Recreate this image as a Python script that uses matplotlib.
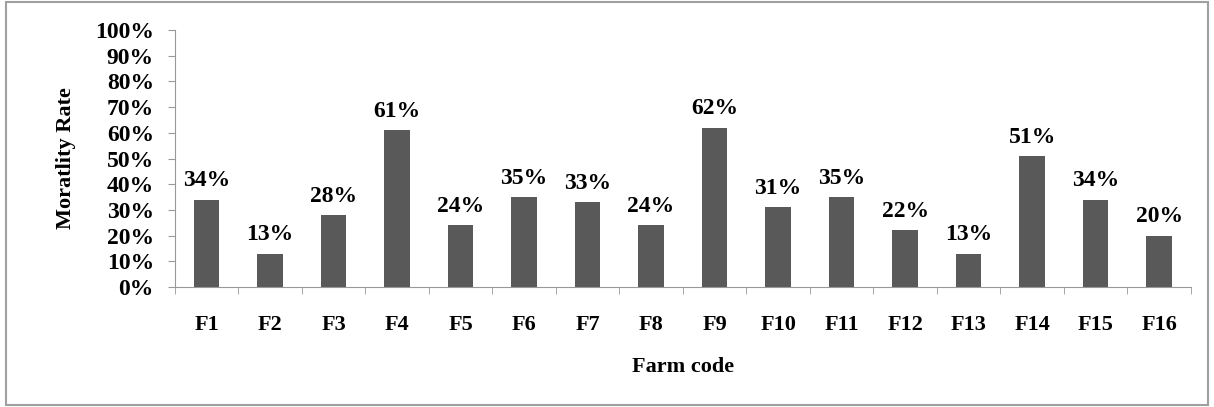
import numpy as np
import matplotlib
matplotlib.use('Agg')
import matplotlib.pyplot as plt
from matplotlib.patches import Rectangle

farms = ['F1', 'F2', 'F3', 'F4', 'F5', 'F6', 'F7', 'F8',
         'F9', 'F10', 'F11', 'F12', 'F13', 'F14', 'F15', 'F16']
mortality = [34, 13, 28, 61, 24, 35, 33, 24, 62, 31, 35, 22, 13, 51, 34, 20]

plt.rcParams['font.family'] = ['Liberation Serif', 'DejaVu Serif']
plt.rcParams['font.weight'] = 'bold'

fig = plt.figure(figsize=(12.14, 4.07), dpi=100)
ax = fig.add_axes([0.144, 0.295, 0.837, 0.631])

x = np.arange(len(farms))
ax.bar(x, mortality, width=0.4, color='#595959', zorder=2)

for xi, v in zip(x, mortality):
    ax.annotate('%d%%' % v, (xi, v), xytext=(0, 6), textcoords='offset points',
                ha='center', va='bottom', fontsize=17, fontweight='bold')

ax.set_xlim(-0.5, len(farms) - 0.5)
ax.set_ylim(0, 100)
ax.set_yticks(np.arange(0, 101, 10))
ax.set_yticklabels(['%d%%' % t for t in range(0, 101, 10)], fontsize=17, fontweight='bold')

# category labels centred, tick marks between categories
ax.set_xticks(x)
ax.set_xticklabels(farms, fontsize=16, fontweight='bold')
ax.tick_params(axis='x', length=0, pad=20)
ax.set_xticks(np.arange(-0.5, len(farms)), minor=True)
ax.tick_params(axis='x', which='minor', length=5, color='#999999', direction='out')
ax.tick_params(axis='y', length=5, color='#999999', direction='out', pad=10)

for side in ['top', 'right']:
    ax.spines[side].set_visible(False)
ax.spines['left'].set_color('#999999')
ax.spines['bottom'].set_color('#999999')

ax.set_xlabel('Farm code', fontsize=16, fontweight='bold', labelpad=16)
ax.set_ylabel('Moratlity Rate', fontsize=16, fontweight='bold', labelpad=14)

# outer frame
fig.patches.append(Rectangle((0.005, 0.005), 0.99, 0.99, transform=fig.transFigure,
                             fill=False, edgecolor='#a0a0a0', linewidth=1.5))

fig.savefig('out.png', dpi=100)
